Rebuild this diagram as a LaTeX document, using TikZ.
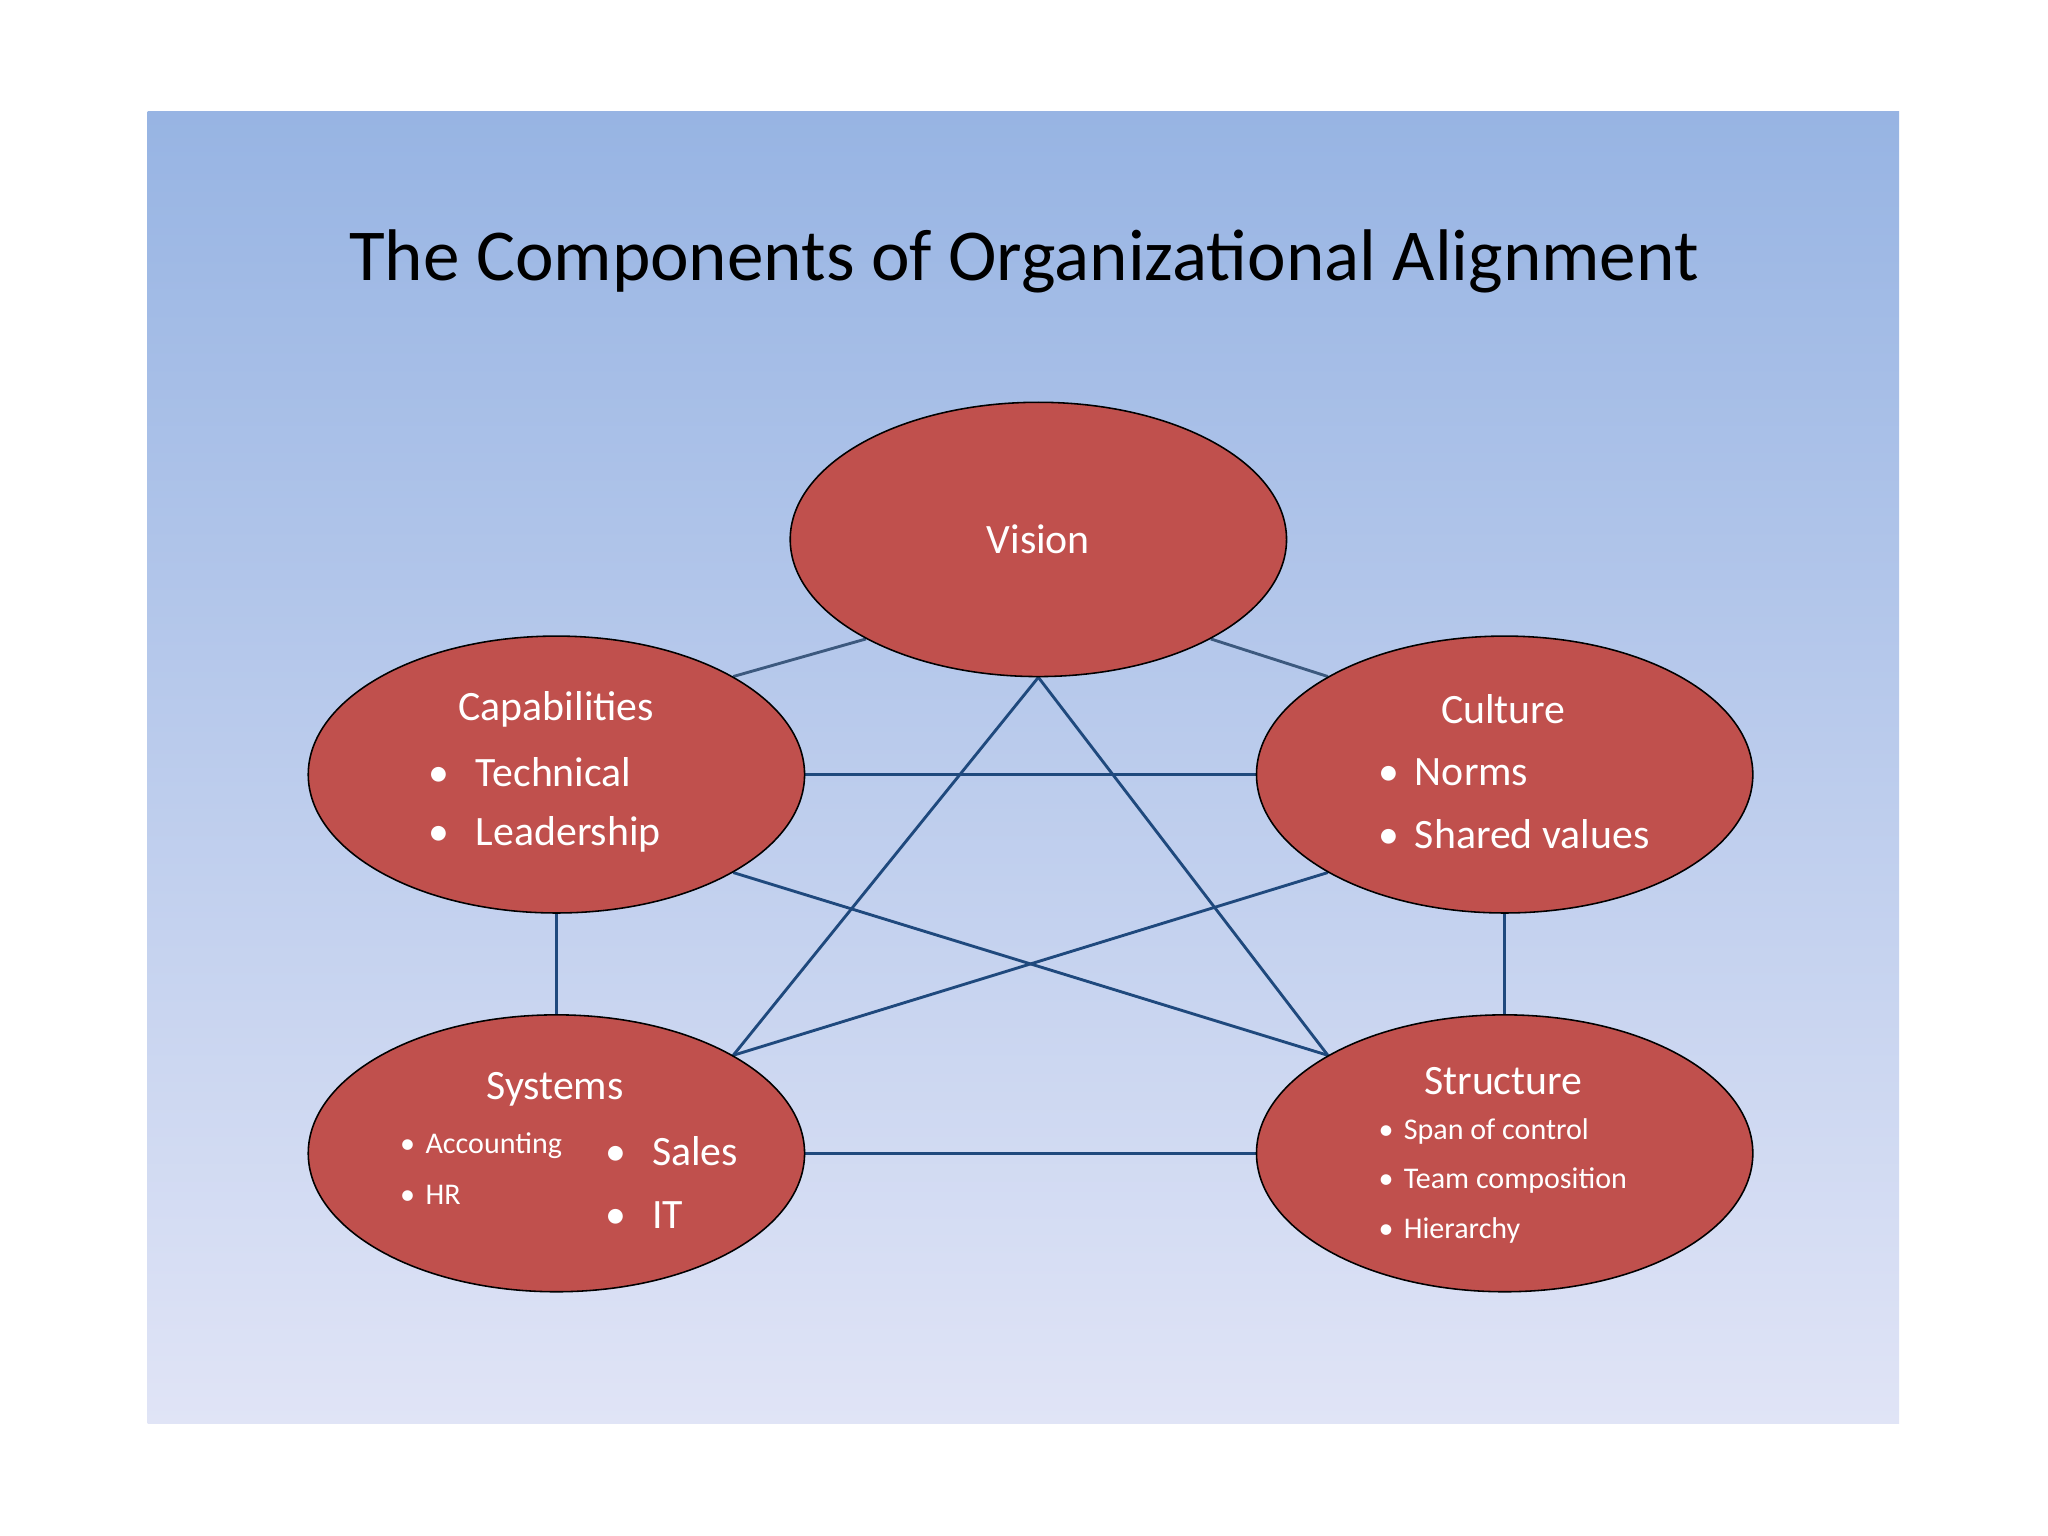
\documentclass[tikz,border=0pt]{standalone}
\usepackage{fontspec}
\setmainfont{Carlito}
\usetikzlibrary{shapes.geometric,backgrounds}
\definecolor{topc}{HTML}{97B4E3}
\definecolor{botc}{HTML}{E0E4F6}
\definecolor{redf}{HTML}{C0504D}
\definecolor{linec}{HTML}{1F497D}
\begin{document}
\begin{tikzpicture}[x=0.5pt,y=-0.5pt,
  oval/.style={ellipse,draw=black,line width=0.6pt,fill=redf,minimum width=190pt,minimum height=106pt,inner sep=0pt},
  head/.style={text=white,font=\fontsize{16}{18}\selectfont},
  big/.style={text=white,font=\fontsize{16}{18}\selectfont,anchor=west,inner sep=0pt},
  small/.style={text=white,font=\fontsize{11.5}{13}\selectfont,anchor=west,inner sep=0pt},
  conn/.style={draw=linec,line width=1.1pt}]
\node[font=\fontsize{28}{32}\selectfont] (title) at (784,200) {The Components of Organizational Alignment};
\node[oval,minimum height=105pt] (vis) at (795,413) {};
\node[oval] (cap) at (426,593) {};
\node[oval] (cul) at (1152,593) {};
\node[oval] (sys) at (426,883) {};
\node[oval] (str) at (1152,883) {};
\begin{scope}[on background layer]
\fill[white] (0,0) rectangle (1568,1176);
\shade[top color=topc,bottom color=botc] (113,85) rectangle (1454,1090);
\draw[conn,draw=linec!70!gray] (vis.210) -- (cap.29);
\draw[conn,draw=linec!70!gray] (vis.330) -- (cul.151);
\draw[conn] (cap.east) -- (cul.west);
\draw[conn] (vis.south) -- (sys.29);
\draw[conn] (vis.south) -- (str.151);
\draw[conn] (cap.-29) -- (str.151);
\draw[conn] (cul.209) -- (sys.29);
\draw[conn] (cap.south) -- (sys.north);
\draw[conn] (cul.south) -- (str.north);
\draw[conn] (sys.east) -- (str.west);
\end{scope}
\node[head] (tv) at (795,413) {Vision};
\node[head] (tc) at (426,543) {Capabilities};
\node[big] (c1) at (328,591) {•\hspace{10pt}Technical};
\node[big] (c2) at (328,639) {•\hspace{10pt}Leadership};
\node[head] (tu) at (1151,543) {Culture};
\node[big] (u1) at (1055,591) {•\hspace{6pt}Norms};
\node[big] (u2) at (1055,639) {•\hspace{6pt}Shared values};
\node[head] (ts) at (425,834) {Systems};
\node[small] (s1) at (306,877) {•\hspace{4pt}Accounting};
\node[small] (s2) at (306,915) {•\hspace{4pt}HR};
\node[big] (s3) at (463,881) {•\hspace{10pt}Sales};
\node[big] (s4) at (463,930) {•\hspace{10pt}IT};
\node[head] (tt) at (1151,828) {Structure};
\node[small] (t1) at (1055,866) {•\hspace{4pt}Span of control};
\node[small] (t2) at (1055,904) {•\hspace{4pt}Team composition};
\node[small] (t3) at (1055,942) {•\hspace{4pt}Hierarchy};
\end{tikzpicture}
\end{document}
